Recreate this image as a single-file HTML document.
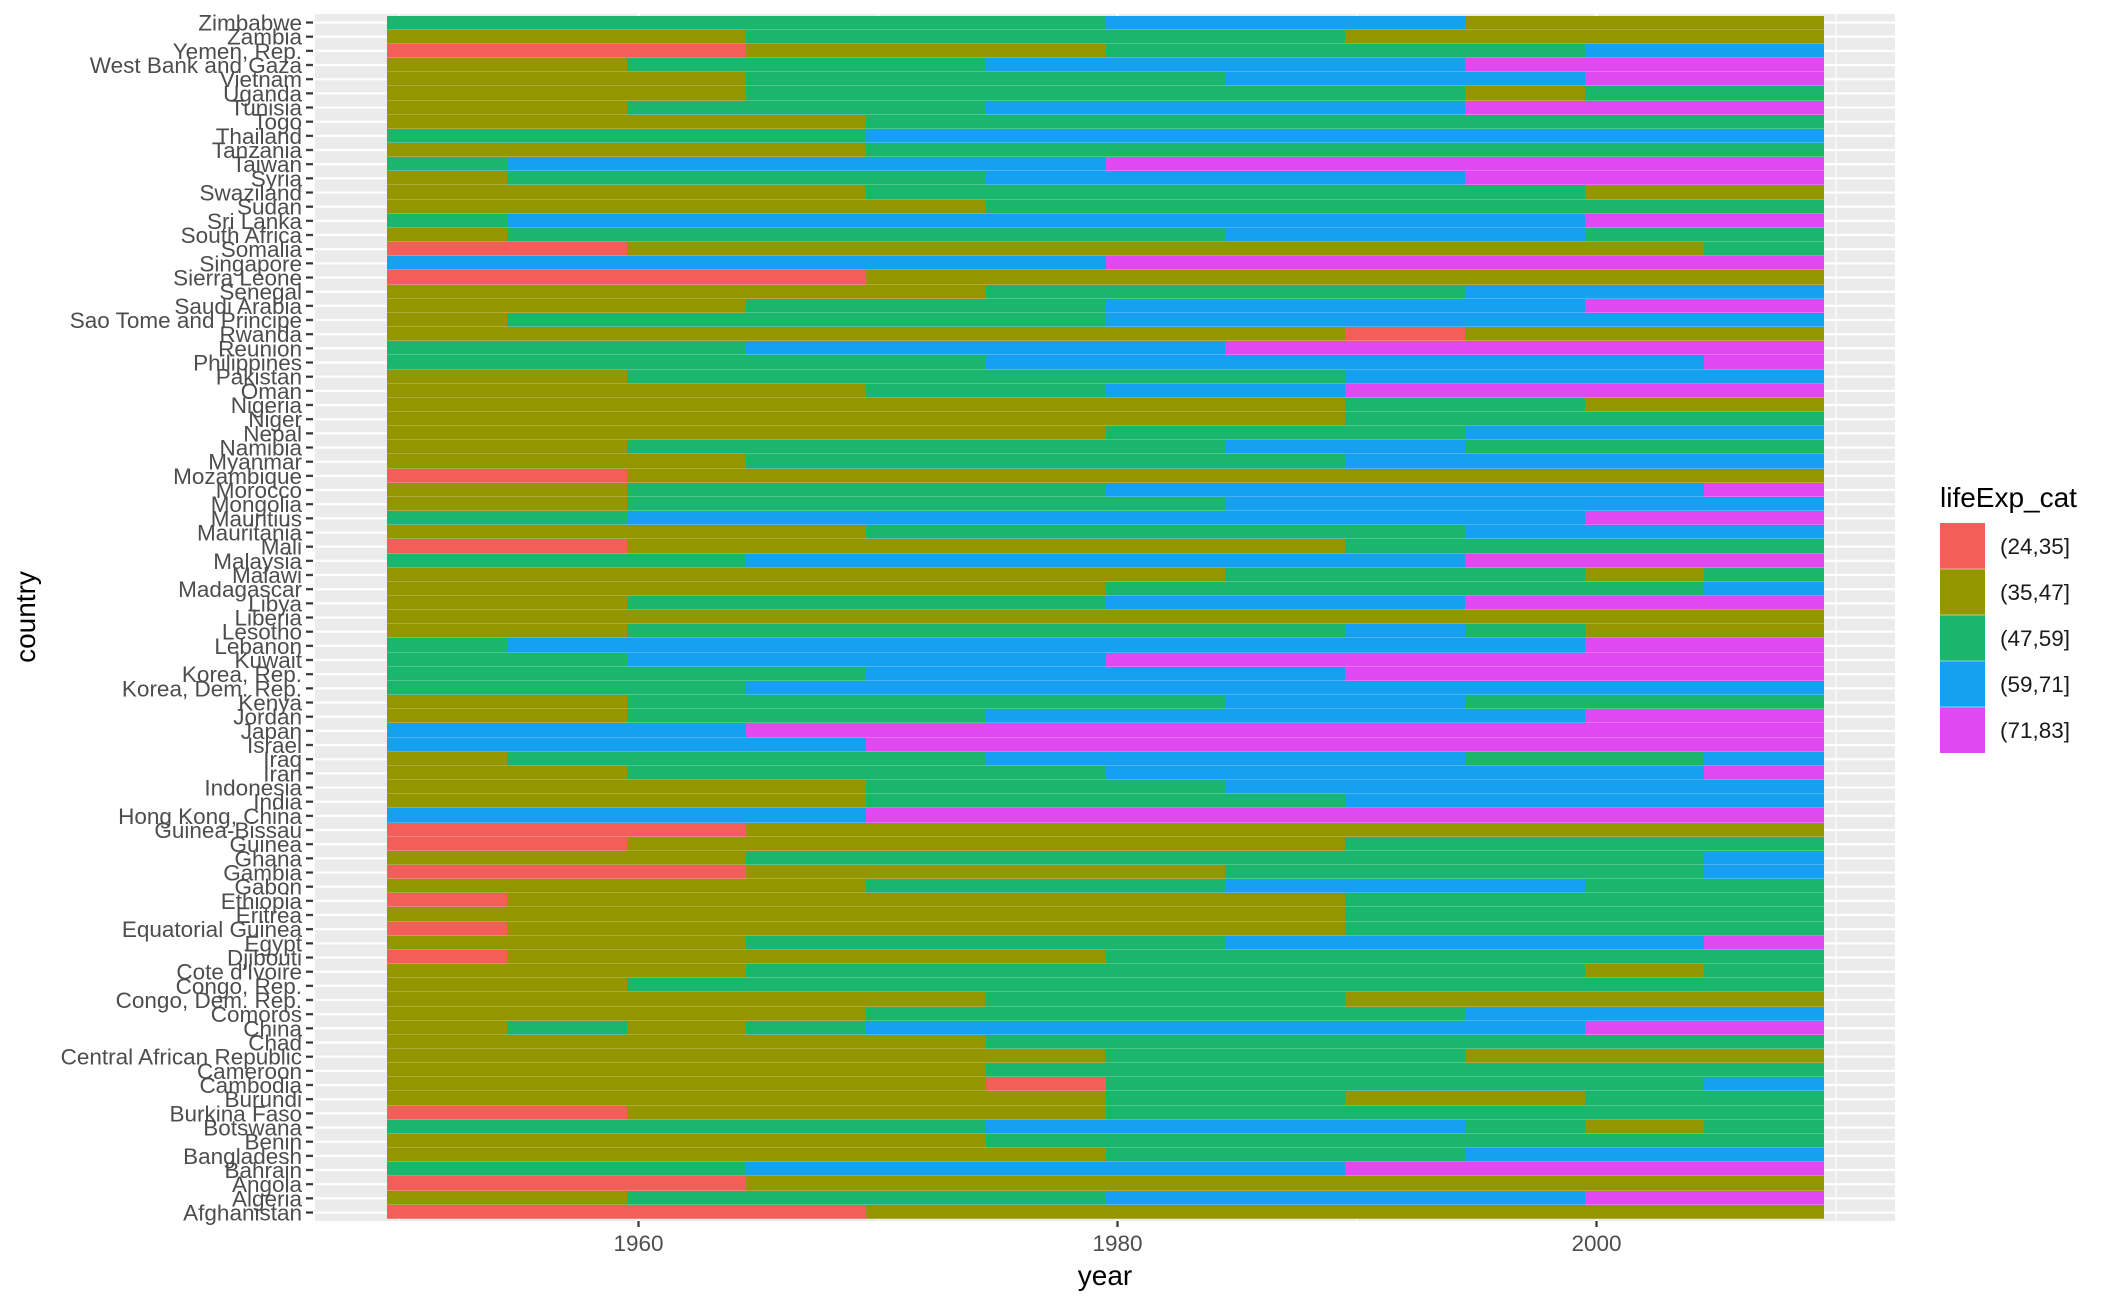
<!DOCTYPE html>
<html><head><meta charset="utf-8"><style>
html,body{margin:0;padding:0;background:#fff;}
body{position:relative;width:2112px;height:1305px;overflow:hidden;}
svg{position:absolute;left:0;top:0;display:block;font-family:"Liberation Sans",Arial,sans-serif;}
#bars{position:absolute;left:387px;top:15.6px;width:1437px;}
#bars div{display:flex;height:14.167px;}
#bars i{display:block;height:100%;flex-basis:0;box-shadow:inset 0 -1px 0 rgba(255,255,255,0.22);}
.R{background:#F35E5A}.O{background:#949600}.G{background:#1BB66E}.B{background:#16A0F1}.M{background:#DF49F1}
</style></head><body>
<svg width="2112" height="1305" viewBox="0 0 2112 1305" xmlns="http://www.w3.org/2000/svg">
<defs>
<pattern id="hg" patternUnits="userSpaceOnUse" x="0" y="15.4167" width="2112" height="14.1667">
<rect x="0" y="6" width="2112" height="2.2" fill="#fff"/>
</pattern>
<pattern id="yt" patternUnits="userSpaceOnUse" x="0" y="15.4167" width="2112" height="14.1667">
<rect x="0" y="6" width="2112" height="2.2" fill="#333"/>
</pattern>
</defs>
<rect x="0" y="0" width="2112" height="1305" fill="#fff"/>
<rect x="315" y="14" width="1580" height="1207" fill="#EBEBEB"/>
<rect x="315" y="14" width="1580" height="1207" fill="url(#hg)"/>
<g stroke="#fff" stroke-width="1.1">
<line x1="399" x2="399" y1="14" y2="1221"/>
<line x1="878" x2="878" y1="14" y2="1221"/>
<line x1="1357" x2="1357" y1="14" y2="1221"/>
<line x1="1836" x2="1836" y1="14" y2="1221"/>
</g>
<g stroke="#fff" stroke-width="2.2">
<line x1="638.5" x2="638.5" y1="14" y2="1221"/>
<line x1="1117.5" x2="1117.5" y1="14" y2="1221"/>
<line x1="1596.5" x2="1596.5" y1="14" y2="1221"/>
</g>
<rect x="306" y="14" width="7" height="1207" fill="url(#yt)"/>
<g stroke="#333" stroke-width="2.2">
<line x1="638.5" x2="638.5" y1="1221" y2="1227"/>
<line x1="1117.5" x2="1117.5" y1="1221" y2="1227"/>
<line x1="1596.5" x2="1596.5" y1="1221" y2="1227"/>
</g>
<g font-size="22.5" fill="#4D4D4D" text-anchor="end">
<text x="302" y="30.5">Zimbabwe</text>
<text x="302" y="44.7">Zambia</text>
<text x="302" y="58.8">Yemen, Rep.</text>
<text x="302" y="73">West Bank and Gaza</text>
<text x="302" y="87.2">Vietnam</text>
<text x="302" y="101.3">Uganda</text>
<text x="302" y="115.5">Tunisia</text>
<text x="302" y="129.7">Togo</text>
<text x="302" y="143.8">Thailand</text>
<text x="302" y="158">Tanzania</text>
<text x="302" y="172.2">Taiwan</text>
<text x="302" y="186.3">Syria</text>
<text x="302" y="200.5">Swaziland</text>
<text x="302" y="214.7">Sudan</text>
<text x="302" y="228.8">Sri Lanka</text>
<text x="302" y="243">South Africa</text>
<text x="302" y="257.2">Somalia</text>
<text x="302" y="271.3">Singapore</text>
<text x="302" y="285.5">Sierra Leone</text>
<text x="302" y="299.7">Senegal</text>
<text x="302" y="313.8">Saudi Arabia</text>
<text x="302" y="328">Sao Tome and Principe</text>
<text x="302" y="342.2">Rwanda</text>
<text x="302" y="356.3">Reunion</text>
<text x="302" y="370.5">Philippines</text>
<text x="302" y="384.7">Pakistan</text>
<text x="302" y="398.8">Oman</text>
<text x="302" y="413">Nigeria</text>
<text x="302" y="427.2">Niger</text>
<text x="302" y="441.3">Nepal</text>
<text x="302" y="455.5">Namibia</text>
<text x="302" y="469.7">Myanmar</text>
<text x="302" y="483.8">Mozambique</text>
<text x="302" y="498">Morocco</text>
<text x="302" y="512.2">Mongolia</text>
<text x="302" y="526.3">Mauritius</text>
<text x="302" y="540.5">Mauritania</text>
<text x="302" y="554.7">Mali</text>
<text x="302" y="568.8">Malaysia</text>
<text x="302" y="583">Malawi</text>
<text x="302" y="597.2">Madagascar</text>
<text x="302" y="611.3">Libya</text>
<text x="302" y="625.5">Liberia</text>
<text x="302" y="639.7">Lesotho</text>
<text x="302" y="653.8">Lebanon</text>
<text x="302" y="668">Kuwait</text>
<text x="302" y="682.2">Korea, Rep.</text>
<text x="302" y="696.3">Korea, Dem. Rep.</text>
<text x="302" y="710.5">Kenya</text>
<text x="302" y="724.7">Jordan</text>
<text x="302" y="738.8">Japan</text>
<text x="302" y="753">Israel</text>
<text x="302" y="767.2">Iraq</text>
<text x="302" y="781.3">Iran</text>
<text x="302" y="795.5">Indonesia</text>
<text x="302" y="809.7">India</text>
<text x="302" y="823.8">Hong Kong, China</text>
<text x="302" y="838">Guinea-Bissau</text>
<text x="302" y="852.2">Guinea</text>
<text x="302" y="866.3">Ghana</text>
<text x="302" y="880.5">Gambia</text>
<text x="302" y="894.7">Gabon</text>
<text x="302" y="908.8">Ethiopia</text>
<text x="302" y="923">Eritrea</text>
<text x="302" y="937.2">Equatorial Guinea</text>
<text x="302" y="951.3">Egypt</text>
<text x="302" y="965.5">Djibouti</text>
<text x="302" y="979.7">Cote d'Ivoire</text>
<text x="302" y="993.8">Congo, Rep.</text>
<text x="302" y="1008">Congo, Dem. Rep.</text>
<text x="302" y="1022.2">Comoros</text>
<text x="302" y="1036.3">China</text>
<text x="302" y="1050.5">Chad</text>
<text x="302" y="1064.7">Central African Republic</text>
<text x="302" y="1078.8">Cameroon</text>
<text x="302" y="1093">Cambodia</text>
<text x="302" y="1107.2">Burundi</text>
<text x="302" y="1121.3">Burkina Faso</text>
<text x="302" y="1135.5">Botswana</text>
<text x="302" y="1149.7">Benin</text>
<text x="302" y="1163.8">Bangladesh</text>
<text x="302" y="1178">Bahrain</text>
<text x="302" y="1192.2">Angola</text>
<text x="302" y="1206.3">Algeria</text>
<text x="302" y="1220.5">Afghanistan</text>
</g>
<g font-size="22.5" fill="#4D4D4D" text-anchor="middle">
<text x="638.5" y="1251">1960</text>
<text x="1117.5" y="1251">1980</text>
<text x="1596.5" y="1251">2000</text>
</g>
<text x="1105" y="1285" font-size="28" text-anchor="middle" fill="#000">year</text>
<text transform="translate(35,617) rotate(-90)" font-size="28" text-anchor="middle" fill="#000">country</text>
<text x="1940" y="507" font-size="28" fill="#000">lifeExp_cat</text>
<rect x="1940" y="523" width="45" height="46" fill="#F35E5A"/>
<rect x="1940" y="569" width="45" height="46" fill="#949600"/>
<rect x="1940" y="615" width="45" height="46" fill="#1BB66E"/>
<rect x="1940" y="661" width="45" height="46" fill="#16A0F1"/>
<rect x="1940" y="707" width="45" height="46" fill="#DF49F1"/>
<g stroke="#fff" stroke-opacity="0.5" stroke-width="1"><line x1="1940" x2="1985" y1="569" y2="569"/><line x1="1940" x2="1985" y1="615" y2="615"/><line x1="1940" x2="1985" y1="661" y2="661"/><line x1="1940" x2="1985" y1="707" y2="707"/></g>
<g font-size="22.5" fill="#1a1a1a">
<text x="2000" y="554">(24,35]</text>
<text x="2000" y="600">(35,47]</text>
<text x="2000" y="646">(47,59]</text>
<text x="2000" y="692">(59,71]</text>
<text x="2000" y="738">(71,83]</text>
</g>
</svg>
<div id="bars">
<div><i class="G" style="flex:6"></i><i class="B" style="flex:3"></i><i class="O" style="flex:3"></i></div>
<div><i class="O" style="flex:3"></i><i class="G" style="flex:5"></i><i class="O" style="flex:4"></i></div>
<div><i class="R" style="flex:3"></i><i class="O" style="flex:3"></i><i class="G" style="flex:4"></i><i class="B" style="flex:2"></i></div>
<div><i class="O" style="flex:2"></i><i class="G" style="flex:3"></i><i class="B" style="flex:4"></i><i class="M" style="flex:3"></i></div>
<div><i class="O" style="flex:3"></i><i class="G" style="flex:4"></i><i class="B" style="flex:3"></i><i class="M" style="flex:2"></i></div>
<div><i class="O" style="flex:3"></i><i class="G" style="flex:6"></i><i class="O" style="flex:1"></i><i class="G" style="flex:2"></i></div>
<div><i class="O" style="flex:2"></i><i class="G" style="flex:3"></i><i class="B" style="flex:4"></i><i class="M" style="flex:3"></i></div>
<div><i class="O" style="flex:4"></i><i class="G" style="flex:8"></i></div>
<div><i class="G" style="flex:4"></i><i class="B" style="flex:8"></i></div>
<div><i class="O" style="flex:4"></i><i class="G" style="flex:8"></i></div>
<div><i class="G" style="flex:1"></i><i class="B" style="flex:5"></i><i class="M" style="flex:6"></i></div>
<div><i class="O" style="flex:1"></i><i class="G" style="flex:4"></i><i class="B" style="flex:4"></i><i class="M" style="flex:3"></i></div>
<div><i class="O" style="flex:4"></i><i class="G" style="flex:6"></i><i class="O" style="flex:2"></i></div>
<div><i class="O" style="flex:5"></i><i class="G" style="flex:7"></i></div>
<div><i class="G" style="flex:1"></i><i class="B" style="flex:9"></i><i class="M" style="flex:2"></i></div>
<div><i class="O" style="flex:1"></i><i class="G" style="flex:6"></i><i class="B" style="flex:3"></i><i class="G" style="flex:2"></i></div>
<div><i class="R" style="flex:2"></i><i class="O" style="flex:9"></i><i class="G" style="flex:1"></i></div>
<div><i class="B" style="flex:6"></i><i class="M" style="flex:6"></i></div>
<div><i class="R" style="flex:4"></i><i class="O" style="flex:8"></i></div>
<div><i class="O" style="flex:5"></i><i class="G" style="flex:4"></i><i class="B" style="flex:3"></i></div>
<div><i class="O" style="flex:3"></i><i class="G" style="flex:3"></i><i class="B" style="flex:4"></i><i class="M" style="flex:2"></i></div>
<div><i class="O" style="flex:1"></i><i class="G" style="flex:5"></i><i class="B" style="flex:6"></i></div>
<div><i class="O" style="flex:8"></i><i class="R" style="flex:1"></i><i class="O" style="flex:3"></i></div>
<div><i class="G" style="flex:3"></i><i class="B" style="flex:4"></i><i class="M" style="flex:5"></i></div>
<div><i class="G" style="flex:5"></i><i class="B" style="flex:6"></i><i class="M" style="flex:1"></i></div>
<div><i class="O" style="flex:2"></i><i class="G" style="flex:6"></i><i class="B" style="flex:4"></i></div>
<div><i class="O" style="flex:4"></i><i class="G" style="flex:2"></i><i class="B" style="flex:2"></i><i class="M" style="flex:4"></i></div>
<div><i class="O" style="flex:8"></i><i class="G" style="flex:2"></i><i class="O" style="flex:2"></i></div>
<div><i class="O" style="flex:8"></i><i class="G" style="flex:4"></i></div>
<div><i class="O" style="flex:6"></i><i class="G" style="flex:3"></i><i class="B" style="flex:3"></i></div>
<div><i class="O" style="flex:2"></i><i class="G" style="flex:5"></i><i class="B" style="flex:2"></i><i class="G" style="flex:3"></i></div>
<div><i class="O" style="flex:3"></i><i class="G" style="flex:5"></i><i class="B" style="flex:4"></i></div>
<div><i class="R" style="flex:2"></i><i class="O" style="flex:10"></i></div>
<div><i class="O" style="flex:2"></i><i class="G" style="flex:4"></i><i class="B" style="flex:5"></i><i class="M" style="flex:1"></i></div>
<div><i class="O" style="flex:2"></i><i class="G" style="flex:5"></i><i class="B" style="flex:5"></i></div>
<div><i class="G" style="flex:2"></i><i class="B" style="flex:8"></i><i class="M" style="flex:2"></i></div>
<div><i class="O" style="flex:4"></i><i class="G" style="flex:5"></i><i class="B" style="flex:3"></i></div>
<div><i class="R" style="flex:2"></i><i class="O" style="flex:6"></i><i class="G" style="flex:4"></i></div>
<div><i class="G" style="flex:3"></i><i class="B" style="flex:6"></i><i class="M" style="flex:3"></i></div>
<div><i class="O" style="flex:7"></i><i class="G" style="flex:3"></i><i class="O" style="flex:1"></i><i class="G" style="flex:1"></i></div>
<div><i class="O" style="flex:6"></i><i class="G" style="flex:5"></i><i class="B" style="flex:1"></i></div>
<div><i class="O" style="flex:2"></i><i class="G" style="flex:4"></i><i class="B" style="flex:3"></i><i class="M" style="flex:3"></i></div>
<div><i class="O" style="flex:12"></i></div>
<div><i class="O" style="flex:2"></i><i class="G" style="flex:6"></i><i class="B" style="flex:1"></i><i class="G" style="flex:1"></i><i class="O" style="flex:2"></i></div>
<div><i class="G" style="flex:1"></i><i class="B" style="flex:9"></i><i class="M" style="flex:2"></i></div>
<div><i class="G" style="flex:2"></i><i class="B" style="flex:4"></i><i class="M" style="flex:6"></i></div>
<div><i class="G" style="flex:4"></i><i class="B" style="flex:4"></i><i class="M" style="flex:4"></i></div>
<div><i class="G" style="flex:3"></i><i class="B" style="flex:9"></i></div>
<div><i class="O" style="flex:2"></i><i class="G" style="flex:5"></i><i class="B" style="flex:2"></i><i class="G" style="flex:3"></i></div>
<div><i class="O" style="flex:2"></i><i class="G" style="flex:3"></i><i class="B" style="flex:5"></i><i class="M" style="flex:2"></i></div>
<div><i class="B" style="flex:3"></i><i class="M" style="flex:9"></i></div>
<div><i class="B" style="flex:4"></i><i class="M" style="flex:8"></i></div>
<div><i class="O" style="flex:1"></i><i class="G" style="flex:4"></i><i class="B" style="flex:4"></i><i class="G" style="flex:2"></i><i class="B" style="flex:1"></i></div>
<div><i class="O" style="flex:2"></i><i class="G" style="flex:4"></i><i class="B" style="flex:5"></i><i class="M" style="flex:1"></i></div>
<div><i class="O" style="flex:4"></i><i class="G" style="flex:3"></i><i class="B" style="flex:5"></i></div>
<div><i class="O" style="flex:4"></i><i class="G" style="flex:4"></i><i class="B" style="flex:4"></i></div>
<div><i class="B" style="flex:4"></i><i class="M" style="flex:8"></i></div>
<div><i class="R" style="flex:3"></i><i class="O" style="flex:9"></i></div>
<div><i class="R" style="flex:2"></i><i class="O" style="flex:6"></i><i class="G" style="flex:4"></i></div>
<div><i class="O" style="flex:3"></i><i class="G" style="flex:8"></i><i class="B" style="flex:1"></i></div>
<div><i class="R" style="flex:3"></i><i class="O" style="flex:4"></i><i class="G" style="flex:4"></i><i class="B" style="flex:1"></i></div>
<div><i class="O" style="flex:4"></i><i class="G" style="flex:3"></i><i class="B" style="flex:3"></i><i class="G" style="flex:2"></i></div>
<div><i class="R" style="flex:1"></i><i class="O" style="flex:7"></i><i class="G" style="flex:4"></i></div>
<div><i class="O" style="flex:8"></i><i class="G" style="flex:4"></i></div>
<div><i class="R" style="flex:1"></i><i class="O" style="flex:7"></i><i class="G" style="flex:4"></i></div>
<div><i class="O" style="flex:3"></i><i class="G" style="flex:4"></i><i class="B" style="flex:4"></i><i class="M" style="flex:1"></i></div>
<div><i class="R" style="flex:1"></i><i class="O" style="flex:5"></i><i class="G" style="flex:6"></i></div>
<div><i class="O" style="flex:3"></i><i class="G" style="flex:7"></i><i class="O" style="flex:1"></i><i class="G" style="flex:1"></i></div>
<div><i class="O" style="flex:2"></i><i class="G" style="flex:10"></i></div>
<div><i class="O" style="flex:5"></i><i class="G" style="flex:3"></i><i class="O" style="flex:4"></i></div>
<div><i class="O" style="flex:4"></i><i class="G" style="flex:5"></i><i class="B" style="flex:3"></i></div>
<div><i class="O" style="flex:1"></i><i class="G" style="flex:1"></i><i class="O" style="flex:1"></i><i class="G" style="flex:1"></i><i class="B" style="flex:6"></i><i class="M" style="flex:2"></i></div>
<div><i class="O" style="flex:5"></i><i class="G" style="flex:7"></i></div>
<div><i class="O" style="flex:6"></i><i class="G" style="flex:3"></i><i class="O" style="flex:3"></i></div>
<div><i class="O" style="flex:5"></i><i class="G" style="flex:7"></i></div>
<div><i class="O" style="flex:5"></i><i class="R" style="flex:1"></i><i class="G" style="flex:5"></i><i class="B" style="flex:1"></i></div>
<div><i class="O" style="flex:6"></i><i class="G" style="flex:2"></i><i class="O" style="flex:2"></i><i class="G" style="flex:2"></i></div>
<div><i class="R" style="flex:2"></i><i class="O" style="flex:4"></i><i class="G" style="flex:6"></i></div>
<div><i class="G" style="flex:5"></i><i class="B" style="flex:4"></i><i class="G" style="flex:1"></i><i class="O" style="flex:1"></i><i class="G" style="flex:1"></i></div>
<div><i class="O" style="flex:5"></i><i class="G" style="flex:7"></i></div>
<div><i class="O" style="flex:6"></i><i class="G" style="flex:3"></i><i class="B" style="flex:3"></i></div>
<div><i class="G" style="flex:3"></i><i class="B" style="flex:5"></i><i class="M" style="flex:4"></i></div>
<div><i class="R" style="flex:3"></i><i class="O" style="flex:9"></i></div>
<div><i class="O" style="flex:2"></i><i class="G" style="flex:4"></i><i class="B" style="flex:4"></i><i class="M" style="flex:2"></i></div>
<div><i class="R" style="flex:4"></i><i class="O" style="flex:8"></i></div>
</div>
</body></html>
